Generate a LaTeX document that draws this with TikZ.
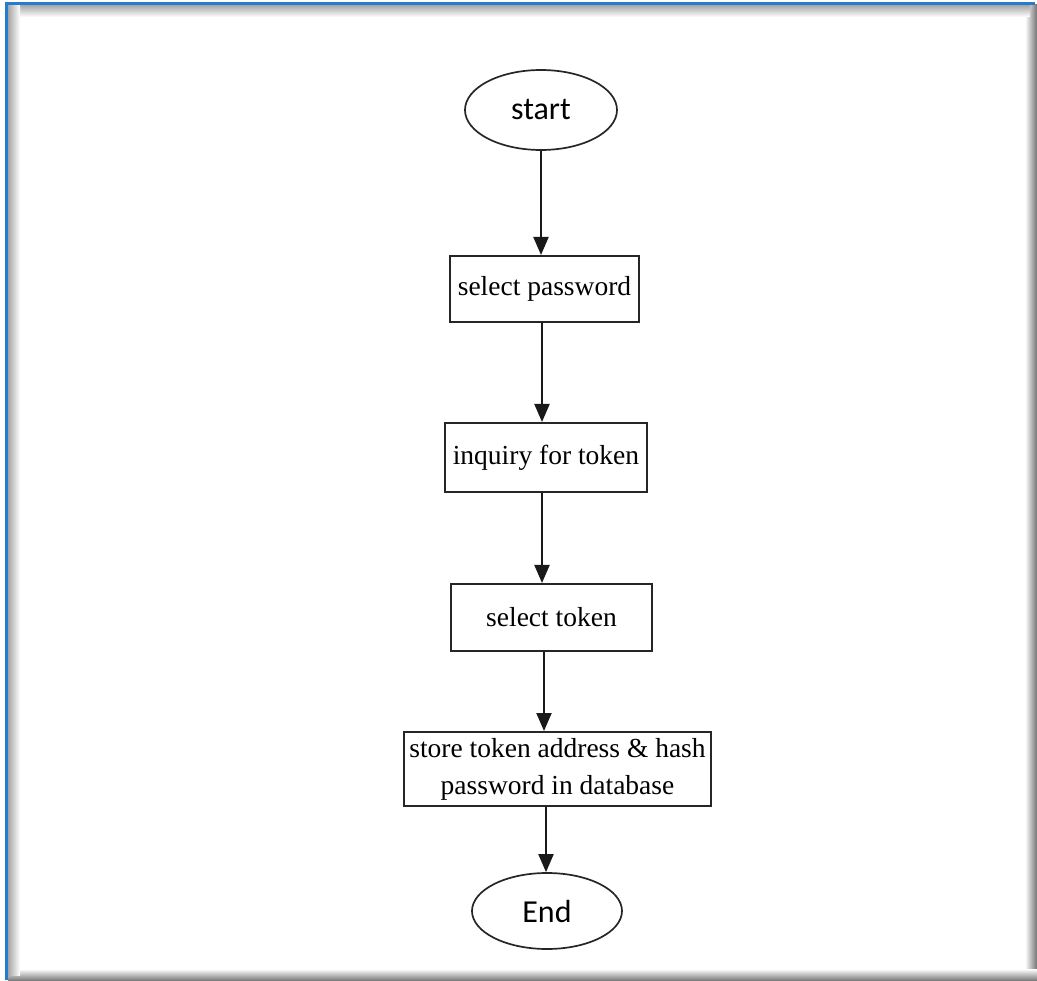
\documentclass[tikz,border=0pt]{standalone}
\usepackage{fontspec}
\setmainfont{Liberation Serif}
\newfontfamily\labelsans{Carlito}
\usetikzlibrary{shapes.geometric,arrows.meta}
\definecolor{frameblue}{RGB}{38,124,204}
\begin{document}
\begin{tikzpicture}[x=1pt,y=-1pt,
  stepbox/.style={draw=black!85,line width=2pt,inner sep=0pt,align=center,
    font=\fontsize{27.5}{37}\selectfont},
  terminal/.style={draw=black!85,ellipse,line width=1.7pt,inner sep=0pt,
    font=\labelsans\fontsize{32}{36}\selectfont},
  flow/.style={draw=black!90,line width=2pt,-{Triangle[width=15pt,length=18pt]}}]
% page and frame
\fill[white] (0,0) rectangle (1037,981);
\shade[left color=white,right color=black!55] (1025,5) rectangle (1037,981);
\shade[top color=white,bottom color=black!55] (8,969) rectangle (1037,981);
\shade[top color=black!35,bottom color=white] (8,5) rectangle (1030,17);
\shade[left color=black!35,right color=white] (8,5) rectangle (20,975);
\fill[frameblue] (5,2) rectangle (1035,5);
\fill[frameblue] (5,2) rectangle (8,980);
\useasboundingbox (0,0) rectangle (1037,981);

% flowchart nodes
\node[terminal,minimum width=152pt,minimum height=80pt] (start) at (541,110) {start};
\node[stepbox,minimum width=189pt,minimum height=66pt] (pw) at (544.5,289) {select password};
\node[stepbox,minimum width=202pt,minimum height=69pt] (inq) at (546,457.5) {inquiry for token};
\node[stepbox,minimum width=201pt,minimum height=67pt] (tok) at (551.5,617.5) {select token};
\node[stepbox,minimum width=307pt,minimum height=74pt] (store) at (557.5,769)
  {store token address \& hash\\password in database};
\node[terminal,minimum width=150pt,minimum height=76pt] (end) at (547,911) {End};

% connectors
\draw[flow] (start) -- (start |- pw.north);
\draw[flow] ([xshift=-2.5pt]pw.south) -- ([xshift=-2.5pt]pw.south |- inq.north);
\draw[flow] ([xshift=-4pt]inq.south) -- ([xshift=-4pt]inq.south |- tok.north);
\draw[flow] ([xshift=-7.5pt]tok.south) -- ([xshift=-7.5pt]tok.south |- store.north);
\draw[flow] ([xshift=-11.5pt]store.south) -- ([xshift=-11.5pt]store.south |- end.north);
\end{tikzpicture}
\end{document}
